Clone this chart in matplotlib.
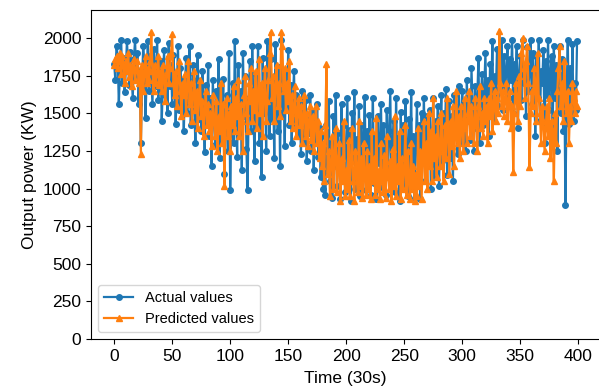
import matplotlib
matplotlib.use('Agg')
import matplotlib.pyplot as plt

plt.rcParams['font.family'] = ['Liberation Sans', 'DejaVu Sans']

x_label = 'Time (30s)'
y_label = 'Output power (KW)'

# actual values, 400 samples
actual = [
    1830, 1720, 1950, 1880, 1560, 1800, 1990, 1700, 1870, 1640, 1780, 1980, 1820, 1690, 1910, 1750, 1600, 1860, 1990, 1720,
    1900, 1560, 1780, 1300, 1690, 1950, 1820, 1470, 1740, 1980, 1650, 1880, 1720, 1560, 1930, 1800, 1680, 1990, 1590, 1760,
    1850, 1450, 1700, 1920, 1620, 1780, 1500, 1970, 1680, 1820, 1560, 1890, 1740, 1430, 1660, 1950, 1520, 1800, 1620, 1720,
    1380, 1690, 1870, 1500, 1760, 1950, 1420, 1650, 1820, 1540, 1300, 1720, 1890, 1460, 1620, 1380, 1780, 1560, 1240, 1690,
    1480, 1820, 1350, 1600, 1150, 1720, 1500, 1290, 1650, 1420, 1860, 1200, 1560, 1350, 1730, 1100, 1480, 1620, 1250, 1900,
    990, 1450, 1700, 1300, 1980, 1560, 1210, 1820, 1400, 1650, 1120, 1900, 1480, 1750, 1260, 990, 1600, 1850, 1380, 1950,
    1520, 1180, 1760, 1410, 1950, 1300, 1640, 1080, 1870, 1500, 1720, 1250, 1980, 1580, 1350, 1860, 1460, 1700, 1200, 1960,
    1600, 1380, 1810, 1150, 1990, 1480, 1650, 1280, 1760, 1550, 1920, 1420, 1690, 1300, 1580, 1780, 1400, 1620, 1500, 1350,
    1560, 1230, 1650, 1420, 1300, 1590, 1180, 1480, 1370, 1620, 1250, 1510, 1120, 1440, 1320, 1560, 1210, 1400, 1080, 1350,
    1000, 1250, 960, 1420, 1120, 1580, 1050, 1300, 940, 1480, 1150, 1620, 1020, 1370, 1250, 930, 1560, 1100, 1420, 980,
    1280, 1600, 1050, 1390, 920, 1500, 1180, 1640, 1000, 1330, 1150, 1550, 950, 1420, 1080, 1270, 1610, 990, 1380, 1120,
    1490, 960, 1250, 1600, 1040, 1350, 930, 1480, 1170, 1300, 1560, 1010, 1420, 1230, 960, 1520, 1100, 1380, 1650, 1000,
    1290, 1450, 980, 1600, 1150, 1340, 920, 1510, 1200, 1420, 1010, 1580, 1280, 950, 1460, 1130, 1640, 1020, 1350, 940,
    1300, 1560, 1100, 1420, 930, 1500, 1250, 1600, 1050, 1380, 1480, 1150, 1520, 1000, 1330, 1600, 1080, 1450, 1250, 1550,
    1020, 1400, 1620, 1180, 1500, 1300, 1660, 1090, 1450, 1580, 1200, 1480, 1050, 1620, 1350, 1540, 1230, 1680, 1420, 1300,
    1650, 1380, 1560, 1250, 1720, 1450, 1620, 1320, 1800, 1520, 1250, 1680, 1400, 1600, 1870, 1300, 1540, 1760, 1420, 1650,
    1900, 1500, 1720, 1350, 1830, 1600, 1980, 1450, 1750, 1620, 1930, 1550, 1800, 1700, 1990, 1520, 1880, 1650, 1780, 1950,
    1600, 1860, 1720, 1990, 1500, 1830, 1680, 1950, 1400, 1760, 1880, 1590, 1990, 1700, 1820, 1480, 1940, 1650, 1780, 1990,
    1560, 1900, 1720, 1350, 1880, 1600, 1990, 1450, 1780, 1700, 1920, 1300, 1850, 1620, 1990, 1520, 1760, 1880, 1400, 1950,
    1600, 1820, 1250, 1700, 1950, 1500, 1860, 1380, 1720, 890, 1620, 1990, 1430, 1800, 1550, 1960, 1450, 1700, 1520, 1980,
]

# predicted values, 400 samples
predicted = [
    1820, 1860, 1880, 1800, 1850, 1900, 1760, 1880, 1820, 1700, 1850, 1780, 1900, 1740, 1820, 1680, 1800, 1860, 1720, 1790,
    1850, 1700, 1780, 1230, 1820, 1650, 1760, 1880, 1700, 1800, 1720, 1850, 2040, 1780, 1650, 1820, 1700, 1760, 1880, 1690,
    1780, 1650, 1820, 1720, 1580, 1760, 1880, 1700, 1800, 1900, 2030, 1700, 1620, 1780, 1550, 1720, 1850, 1650, 1480, 1700,
    1620, 1760, 1500, 1680, 1850, 1560, 1700, 1450, 1620, 1780, 1520, 1650, 1400, 1600, 1720, 1480, 1580, 1350, 1520, 1650,
    1420, 1560, 1380, 1500, 1280, 1620, 1450, 1350, 1580, 1250, 1480, 1380, 1700, 1300, 1560, 1020, 1450, 1600, 1350, 1500,
    1250, 1550, 1420, 1680, 1380, 1600, 1480, 1720, 1350, 1560, 1450, 1250, 1620, 1750, 1500, 1380, 1700, 1580, 1800, 1450,
    1650, 1520, 1780, 1400, 1600, 1860, 1500, 1700, 1350, 1620, 1800, 1450, 1580, 1720, 1900, 2040, 1600, 1750, 1450, 1680,
    1820, 1550, 1700, 1480, 2040, 1950, 1650, 1800, 1520, 1700, 1580, 1850, 1450, 1620, 1400, 1550, 1680, 1350, 1500, 1600,
    1420, 1550, 1300, 1480, 1620, 1350, 1500, 1280, 1450, 1550, 1320, 1480, 1250, 1420, 1550, 1300, 1450, 1200, 1380, 1150,
    1300, 1050, 1420, 1830, 1100, 1250, 950, 1180, 1350, 1000, 1220, 1400, 980, 1150, 1300, 920, 1200, 1050, 1450, 950,
    1120, 1000, 1320, 950, 1180, 1400, 1050, 920, 1250, 1100, 980, 1450, 1020, 1200, 940, 1300, 1080, 960, 1250, 1000,
    1150, 930, 1380, 1050, 1200, 960, 1470, 1000, 1120, 930, 1300, 1050, 980, 1220, 940, 1350, 1080, 1000, 1180, 920,
    1260, 1020, 1480, 950, 1150, 1050, 1380, 930, 1200, 1000, 1120, 1420, 960, 1250, 1050, 930, 1300, 1000, 1150, 920,
    1100, 950, 1400, 1020, 1250, 930, 1180, 1450, 1050, 1300, 1000, 1500, 1150, 1380, 1050, 1600, 1200, 1350, 1080, 1450,
    1250, 1150, 1500, 1300, 1050, 1420, 1200, 1600, 1350, 1100, 1450, 1280, 1550, 1150, 1400, 1650, 1300, 1480, 1200, 1550,
    1400, 1250, 1600, 1450, 1300, 1500, 1650, 1350, 1550, 1420, 1300, 1600, 1480, 1250, 1550, 1680, 1400, 1500, 1350, 1600,
    1450, 1550, 1300, 1600, 1480, 1700, 1380, 1550, 1650, 1450, 1600, 1500, 2050, 1700, 1550, 1650, 1480, 1600, 1700, 1450,
    1580, 1650, 1400, 1550, 1110, 1500, 1700, 1600, 1450, 1750, 1550, 1900, 2000, 1800, 1600, 1850, 1950, 1700, 1140, 1500,
    1650, 1550, 1800, 1700, 1450, 1900, 1600, 1500, 1300, 1550, 1450, 1250, 1400, 1550, 1350, 1600, 1200, 1450, 1380, 1050,
    1500, 1300, 1650, 1800, 1950, 1550, 1700, 1450, 1850, 1600, 1500, 1650, 1300, 1550, 1450, 1700, 1600, 1500, 1650, 1550,
]

time = list(range(len(actual)))
y_ticks = [0, 250, 500, 750, 1000, 1250, 1500, 1750, 2000]

fig = plt.figure(figsize=(5.99, 3.92), dpi=100)
ax = fig.add_axes([0.152, 0.135, 0.85, 0.839])

ax.plot(time, actual, color='#1f77b4', marker='o', markersize=4, linewidth=1.6, label='Actual values')
ax.plot(time, predicted, color='#ff7f0e', marker='^', markersize=4, linewidth=1.6, label='Predicted values')

ax.set_ylim(0, 2185)
ax.set_yticks(y_ticks)
ax.set_xticks(range(0, 401, 50))
ax.tick_params(labelsize=12.5)
ax.set_xlabel(x_label, fontsize=12.5, labelpad=5)
ax.set_ylabel(y_label, fontsize=12.5)
ax.legend(loc='lower left', fontsize=10.5)

fig.savefig('out.png', dpi=100)
